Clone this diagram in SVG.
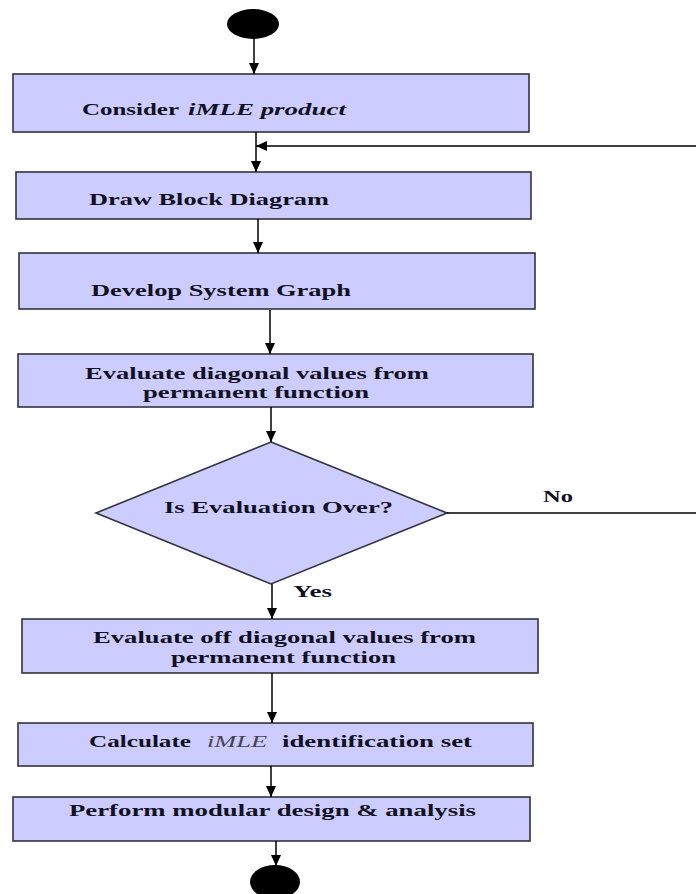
<svg xmlns="http://www.w3.org/2000/svg" width="696" height="894" viewBox="0 0 696 894">
<defs>
<marker id="ah" markerUnits="userSpaceOnUse" markerWidth="12" markerHeight="12" refX="11" refY="5" orient="auto">
<path d="M0,0 L11,5 L0,10 z" fill="#000"/>
</marker>
<style>
.box{fill:#ccccff;stroke:#333340;stroke-width:1.6}
.t{font-family:"Liberation Serif","Times New Roman",serif;font-weight:bold;font-size:17px;fill:#111122}
.it{font-style:italic}
.lt{font-style:italic;font-weight:normal;fill:#444455}
.c{fill:none;stroke:#000;stroke-width:1.5}
.dot{fill:#000}
</style>
</defs>
<rect width="696" height="894" fill="#fff"/>
<g id="start"><ellipse class="dot" cx="253" cy="24" rx="26" ry="15"/></g>
<g id="n1">
<rect class="box" x="13" y="74" width="516" height="58"/>
<text class="t" x="82" y="115" textLength="97" lengthAdjust="spacingAndGlyphs">Consider</text>
<text class="t it" x="188" y="115" textLength="158" lengthAdjust="spacingAndGlyphs">iMLE product</text>
</g>
<g id="n2">
<rect class="box" x="16" y="172" width="515" height="47"/>
<text class="t" x="89" y="205" textLength="240" lengthAdjust="spacingAndGlyphs">Draw Block Diagram</text>
</g>
<g id="n3">
<rect class="box" x="19" y="253" width="516" height="56"/>
<text class="t" x="91" y="296" textLength="260" lengthAdjust="spacingAndGlyphs">Develop System Graph</text>
</g>
<g id="n4">
<rect class="box" x="18" y="354" width="515" height="53"/>
<text class="t" x="85" y="379" textLength="344" lengthAdjust="spacingAndGlyphs">Evaluate diagonal values from</text>
<text class="t" x="143" y="398" textLength="226" lengthAdjust="spacingAndGlyphs">permanent function</text>
</g>
<g id="d1">
<polygon class="box" points="271,442 447,513 271,584 96,513"/>
<text class="t" x="164" y="513" textLength="229" lengthAdjust="spacingAndGlyphs">Is Evaluation Over?</text>
</g>
<g id="n5">
<rect class="box" x="22" y="619" width="516" height="54"/>
<text class="t" x="93" y="643" textLength="383" lengthAdjust="spacingAndGlyphs">Evaluate off diagonal values from</text>
<text class="t" x="171" y="663" textLength="225" lengthAdjust="spacingAndGlyphs">permanent function</text>
</g>
<g id="n6">
<rect class="box" x="18" y="723" width="515" height="43"/>
<text class="t" x="89" y="747" textLength="102" lengthAdjust="spacingAndGlyphs">Calculate</text>
<text class="t lt" x="207" y="747" textLength="60" lengthAdjust="spacingAndGlyphs">iMLE</text>
<text class="t" x="282" y="747" textLength="190" lengthAdjust="spacingAndGlyphs">identification set</text>
</g>
<g id="n7">
<rect class="box" x="13" y="797" width="517" height="44"/>
<text class="t" x="69" y="816" textLength="407" lengthAdjust="spacingAndGlyphs">Perform modular design &amp; analysis</text>
</g>
<g id="end"><ellipse class="dot" cx="275" cy="882" rx="25" ry="17"/></g>
<g id="connectors">
<line class="c" x1="254" y1="39" x2="254" y2="74" marker-end="url(#ah)"/>
<line class="c" x1="256" y1="132" x2="256" y2="172" marker-end="url(#ah)"/>
<path class="c" d="M447,513 H700 V146 H256" marker-end="url(#ah)"/>
<line class="c" x1="258" y1="219" x2="258" y2="253" marker-end="url(#ah)"/>
<line class="c" x1="270" y1="310" x2="270" y2="354" marker-end="url(#ah)"/>
<line class="c" x1="271" y1="407" x2="271" y2="442" marker-end="url(#ah)"/>
<line class="c" x1="272" y1="584" x2="272" y2="619" marker-end="url(#ah)"/>
<line class="c" x1="272" y1="673" x2="272" y2="723" marker-end="url(#ah)"/>
<line class="c" x1="271" y1="766" x2="271" y2="797" marker-end="url(#ah)"/>
<line class="c" x1="276" y1="841" x2="276" y2="866" marker-end="url(#ah)"/>
<text class="t" x="543" y="502" textLength="30" lengthAdjust="spacingAndGlyphs">No</text>
<text class="t" x="293" y="597" textLength="39" lengthAdjust="spacingAndGlyphs">Yes</text>
</g>
</svg>
